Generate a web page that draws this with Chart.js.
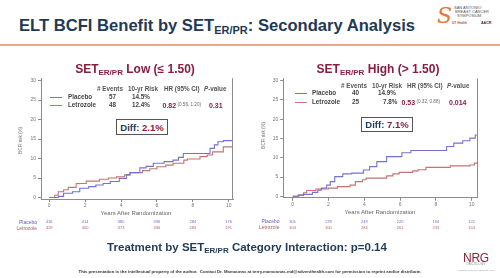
<!DOCTYPE html>
<html><head><meta charset="utf-8">
<script src="https://cdn.jsdelivr.net/npm/chart.js@4"></script>
<style>
html,body{margin:0;padding:0}
body{width:500px;height:278px;overflow:hidden;background:#fff;font-family:Arial,"Liberation Sans",sans-serif;position:relative}
.t{position:absolute;white-space:nowrap;line-height:1}
.c{transform:translateX(-50%)}
canvas{position:absolute}
.box{position:absolute;border:1px solid #555;background:#fff;box-sizing:border-box}
.ln{position:absolute;height:1px}
</style></head><body>
<canvas id="cL" width="250" height="165" style="left:0;top:70px"></canvas>
<canvas id="cR" width="250" height="165" style="left:250px;top:70px"></canvas>
<script>
// ---- data ----
const xTicks = [0, 2, 4, 6, 8, 10];
const yTicks = [0, 5, 10, 15, 20, 25, 30];

const lowPlaceboT = [0, 0.5, 0.8, 1.3, 1.7, 2.2, 2.6, 3.0, 3.4, 3.9, 4.3, 4.5, 5.05, 5.4, 5.8, 6.4, 6.9, 7.2, 7.47, 8.96, 9.2, 9.4, 9.7, 10.22];
const lowPlaceboR = [0, 0.3, 1.1, 1.5, 2.4, 2.8, 3.2, 3.6, 4.1, 4.9, 5.8, 6.4, 7.6, 8.0, 8.8, 9.2, 9.6, 10.3, 11.3, 12.6, 13.5, 14.3, 14.6, 14.6];
const lowLetT = [0, 0.3, 0.5, 0.8, 1.06, 1.5, 2.06, 2.8, 3.3, 3.75, 4.2, 4.5, 5.2, 5.6, 6.0, 6.5, 6.9, 7.5, 7.7, 8.4, 8.8, 9.1, 9.7, 10.22];
const lowLetR = [0, 0.6, 1.5, 2.0, 2.6, 3.6, 4.2, 4.7, 5.0, 5.3, 5.8, 6.4, 6.9, 7.4, 7.9, 8.3, 8.8, 9.6, 9.9, 10.5, 10.9, 11.7, 13.0, 13.0];

const highPlaceboT = [0, 0.3, 0.6, 1.1, 1.4, 1.6, 1.9, 2.1, 2.35, 2.8, 3.3, 3.95, 4.3, 4.7, 5.25, 6.1, 6.6, 8.6, 9.0, 9.5, 9.9, 10.2, 10.3];
const highPlaceboR = [0, 0.3, 0.5, 1.0, 1.6, 2.1, 2.9, 3.8, 5.1, 5.8, 6.0, 6.8, 7.7, 9.0, 10.3, 11.3, 11.9, 12.9, 13.8, 14.4, 15.1, 15.9, 15.9];
const highLetT = [0, 0.35, 0.6, 0.78, 1.3, 2.0, 2.5, 3.2, 3.5, 3.9, 4.1, 5.25, 5.6, 5.95, 6.7, 7.0, 7.45, 8.8, 9.9, 10.15, 10.3];
const highLetR = [0, 0.3, 0.9, 1.5, 1.9, 2.1, 2.5, 2.9, 3.8, 4.3, 4.7, 5.3, 5.8, 6.2, 6.6, 6.9, 7.5, 7.9, 8.1, 8.6, 8.6];

const lowAtRiskPlacebo = [416, 414, 380, 336, 284, 176];
const lowAtRiskLet = [429, 400, 373, 336, 283, 191];
const highAtRiskPlacebo = [301, 278, 249, 220, 194, 121];
const highAtRiskLet = [303, 300, 284, 261, 233, 154];

const BLUE = '#7274cc', RED = '#c47474';
const AX = '#8c8c8c';

function pts(t, r) { return t.map((v, i) => ({ x: v, y: r[i] })); }

function makeChart(id, pT, pR, lT, lR, atP, atL, cfg) {
  const atRiskPlugin = {
    id: 'extra',
    afterDraw(chart) {
      const ctx = chart.ctx, xs = chart.scales.x, a = chart.chartArea;
      ctx.save();
      ctx.strokeStyle = AX; ctx.lineWidth = 1;
      ctx.beginPath(); ctx.moveTo(Math.round(a.right) - 0.5, a.top); ctx.lineTo(Math.round(a.right) - 0.5, a.bottom); ctx.stroke();
      ctx.font = '5px Arial, "Liberation Sans"';
      ctx.textBaseline = 'middle';
      ctx.textAlign = 'right';
      ctx.fillStyle = '#5c5cc0'; ctx.fillText('Placebo', cfg.lblX, cfg.r1);
      ctx.fillStyle = '#b85555'; ctx.fillText('Letrozole', cfg.lblX, cfg.r2);
      ctx.textAlign = 'center';
      ctx.font = '4px Arial, "Liberation Sans"';
      xTicks.forEach((v, i) => {
        const x = xs.getPixelForValue(v);
        ctx.fillStyle = '#6a6acc'; ctx.fillText(String(atP[i]), x, cfg.r1);
        ctx.fillStyle = '#c06060'; ctx.fillText(String(atL[i]), x, cfg.r2);
      });
      ctx.restore();
    }
  };
  return new Chart(document.getElementById(id), {
    type: 'line',
    data: {
      datasets: [
        { label: 'Placebo', data: pts(pT, pR), borderColor: BLUE, borderWidth: 1.1, pointRadius: 0, stepped: true, fill: false },
        { label: 'Letrozole', data: pts(lT, lR), borderColor: RED, borderWidth: 1.1, pointRadius: 0, stepped: true, fill: false }
      ]
    },
    options: {
      responsive: false, animation: false, devicePixelRatio: 1,
      layout: { padding: { left: 0, top: cfg.top, right: cfg.padR, bottom: cfg.padB } },
      plugins: { legend: { display: false }, tooltip: { enabled: false } },
      scales: {
        x: {
          type: 'linear', min: cfg.xmin, max: cfg.xmax,
          afterFit: s => { s.height = 10; },
          afterBuildTicks: s => { s.ticks = xTicks.map(v => ({ value: v })); },
          ticks: { font: { size: 5, family: 'Arial, "Liberation Sans"' }, color: '#777', padding: 1, maxRotation: 0 },
          grid: { display: true, drawOnChartArea: false, drawTicks: true, tickLength: 3, color: AX },
          border: { display: true, color: AX, width: 1 }
        },
        y: {
          type: 'linear', min: -0.4, max: 30.6,
          afterFit: s => { s.width = cfg.yW; },
          afterBuildTicks: s => { s.ticks = yTicks.map(v => ({ value: v })); },
          ticks: { font: { size: 5, family: 'Arial, "Liberation Sans"' }, color: '#777', padding: 2 },
          grid: { display: true, drawOnChartArea: false, drawTicks: true, tickLength: 3, color: AX },
          border: { display: true, color: AX, width: 1 }
        }
      }
    },
    plugins: [atRiskPlugin]
  });
}

makeChart('cL', lowPlaceboT, lowPlaceboR, lowLetT, lowLetR, lowAtRiskPlacebo, lowAtRiskLet,
  { top: 8.2, padR: 17, padB: 25.9, yW: 41, xmin: -0.46, xmax: 10.24, lblX: 37, r1: 152.3, r2: 158.3 });
makeChart('cR', highPlaceboT, highPlaceboR, highLetT, highLetR, highAtRiskPlacebo, highAtRiskLet,
  { top: 8.4, padR: 22.4, padB: 27.2, yW: 33.2, xmin: -0.53, xmax: 10.33, lblX: 29.5, r1: 152, r2: 158 });

// ---- text helpers ----
function T(x, base, html, fs, style, center) {
  const d = document.createElement('div');
  d.className = 't' + (center ? ' c' : '');
  d.style.left = x + 'px';
  d.style.top = (base - 0.85 * fs) + 'px';
  d.style.fontSize = fs + 'px';
  d.style.cssText += ';' + (style || '');
  d.innerHTML = html;
  document.body.appendChild(d);
  return d;
}
function line(x1, x2, y, color) {
  const d = document.createElement('div');
  d.className = 'ln';
  d.style.left = x1 + 'px'; d.style.width = (x2 - x1) + 'px'; d.style.top = Math.round(y - 0.5) + 'px'; d.style.background = color;
  document.body.appendChild(d);
}
const NAVY = '#1f3a56', MAROON = '#8c1d40';
const sub = (s, fs) => `<span style="font-size:${fs}px;position:relative;top:0.3em">${s}</span>`;

// title
T(19, 32.3, 'ELT BCFI Benefit by SET' + sub('ER/PR', 11) + ': Secondary Analysis', 16.6, 'font-weight:bold;color:' + NAVY);
const hr = document.createElement('div');
hr.style.cssText = 'position:absolute;left:0;top:44.3px;width:500px;height:1.5px;background:#eaa68c';
document.body.appendChild(hr);

// SABCS logo
T(437, 24, 'S', 22, 'font-style:italic;color:#e07a3c;font-family:"DejaVu Serif",serif');
T(454, 9, 'SAN ANTONIO', 4, 'color:#555');
T(455, 13, 'BREAST CANCER', 4, 'color:#555');
T(457, 17, 'SYMPOSIUM', 4, 'color:#555');
T(452, 25, 'UT Health', 3.2, 'color:#c0502a;font-weight:bold');
T(481, 25, 'AACR', 3.6, 'color:#333;font-weight:bold');

// subtitles
T(135, 73.3, 'SET' + sub('ER/PR', 8) + ' Low (≤ 1.50)', 12, 'font-weight:bold;color:' + MAROON, true);
T(378, 73.3, 'SET' + sub('ER/PR', 8) + ' High (&gt; 1.50)', 12, 'font-weight:bold;color:' + MAROON, true);

// legend tables
function legend(o) {
  const hs = 'font-weight:bold;color:#555';
  T(o.h[0], o.hy, '# Events', 6.3, hs);
  T(o.h[1], o.hy, '10-yr Risk', 6.3, hs);
  T(o.h[2], o.hy, 'HR (95% CI)', 6.3, hs);
  T(o.h[3], o.hy, '<i>P</i>-value', 6.3, hs);
  line(o.lx1, o.lx2, o.y1 - 2, BLUE);
  line(o.lx1, o.lx2, o.y2 - 2, RED);
  const rs = 'font-weight:bold;color:#444';
  T(o.nx, o.y1, 'Placebo', 6.3, rs);
  T(o.nx, o.y2, 'Letrozole', 6.3, rs);
  T(o.ex, o.y1, o.e1, 6.3, rs);
  T(o.ex, o.y2, o.e2, 6.3, rs);
  T(o.rx1, o.y1, o.r1, 6.3, rs);
  T(o.rx2, o.y2, o.r2, 6.3, rs);
  T(o.hrx, o.y2 + 0.5, o.hr, 7, 'font-weight:bold;color:' + MAROON);
  T(o.cix, o.y2, o.ci, 4.6, 'color:#666');
  T(o.px, o.y2 + 0.5, o.p, 7, 'font-weight:bold;color:' + MAROON);
}
legend({ h: [97, 128, 164, 204], hy: 91, lx1: 50, lx2: 62, y1: 99, y2: 107, nx: 68, ex: 109, e1: '57', e2: '48',
  rx1: 132, rx2: 132, r1: '14.5%', r2: '12.4%', hrx: 162.5, hr: '0.82', cix: 177.5, ci: '(0.56, 1.20)', px: 209, p: '0.31' });
legend({ h: [341, 372, 407, 447], hy: 88, lx1: 295, lx2: 307, y1: 95.5, y2: 104, nx: 312, ex: 352, e1: '40', e2: '25',
  rx1: 378, rx2: 383, r1: '14.9%', r2: '7.8%', hrx: 401.5, hr: '0.53', cix: 416.5, ci: '(0.32, 0.88)', px: 449, p: '0.014' });

// diff boxes
function diffBox(x, y, w, h, val) {
  const b = document.createElement('div');
  b.className = 'box';
  b.style.left = x + 'px'; b.style.top = y + 'px'; b.style.width = w + 'px'; b.style.height = h + 'px';
  document.body.appendChild(b);
  T(x + w / 2, y + h / 2 + 3.6, `<span style="color:${NAVY}">Diff:</span> <span style="color:${MAROON}">${val}</span>`, 9.5, 'font-weight:bold', true);
}
diffBox(116, 119, 52, 16, '2.1%');
diffBox(361, 117, 52, 15, '7.1%');

// axis titles
function yTitle(cx, cy) {
  const d = T(cx, cy, 'BCFI risk (%)', 4.5, 'color:#777');
  d.style.top = (cy - 2.25) + 'px';
  d.style.transform = 'translateX(-50%) rotate(-90deg)';
  d.style.transformOrigin = '50% 50%';
}
yTitle(20.5, 140);
yTitle(264, 135);
T(136, 215, 'Years After Randomization', 6, 'color:#666', true);
T(380, 214, 'Years After Randomization', 6, 'color:#666', true);

// bottom headline
T(247, 251.5, 'Treatment by SET' + sub('ER/PR', 8) + ' Category Interaction: p=0.14', 11.5, 'font-weight:bold;color:' + NAVY, true);

// footer
T(250, 273.5, 'This presentation is the intellectual property of the author.&nbsp; Contact Dr. Mamounas at terry.mamounas.md@adventhealth.com for permission to reprint and/or distribute.', 4.3, 'font-weight:bold;color:#333', true);

// NRG logo
T(476, 262, 'NRG', 12, 'color:#8c2234;letter-spacing:-0.3px', true);
T(476, 266, 'ONCOLOGY', 3, 'color:#777;letter-spacing:0.3px', true);
T(476, 270.5, 'Advancing Research. Improving Lives.', 2.2, 'color:#999', true);
</script>
</body></html>
